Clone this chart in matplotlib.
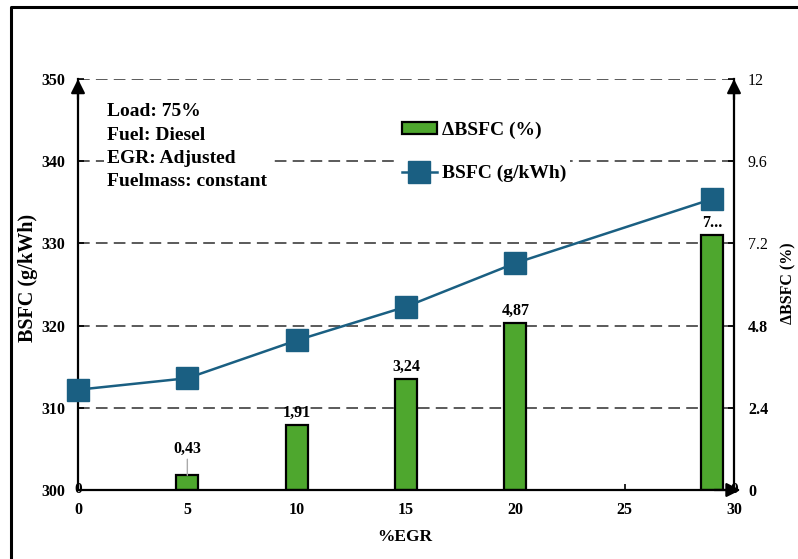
import matplotlib
matplotlib.use("Agg")
import matplotlib.pyplot as plt
from matplotlib.lines import Line2D
from matplotlib.patches import Patch

plt.rcParams['font.family'] = ['Liberation Serif', 'DejaVu Serif']
plt.rcParams['font.weight'] = 'bold'

# ---- data ----
egr_line = [0, 5, 10, 15, 20, 29]
bsfc = [312.2, 313.6, 318.2, 322.3, 327.6, 335.4]
egr_bar = [5, 10, 15, 20, 29]
dbsfc = [0.43, 1.91, 3.24, 4.87, 7.45]
bar_labels = ["0,43", "1,91", "3,24", "4,87", "7..."]
zero_label_x = [0, 30]
left_ticks = [300, 310, 320, 330, 340, 350]
right_ticks = [0, 2.4, 4.8, 7.2, 9.6, 12]
right_tick_labels = ["0", "2.4", "4.8", "7.2", "9.6", "12"]
x_ticks = [0, 5, 10, 15, 20, 25, 30]
info_text = "Load: 75%\nFuel: Diesel\nEGR: Adjusted\nFuelmass: constant"

W, H = 798, 559
fig = plt.figure(figsize=(W / 100, H / 100), dpi=100)
fig.patch.set_facecolor('white')

# axes placement in pixels
x0, x1, y0, y1 = 78, 734, 490, 79
ax2 = fig.add_axes([x0 / W, 1 - y0 / H, (x1 - x0) / W, (y0 - y1) / H])
ax = ax2.twinx()  # line axis, drawn on top
ax.yaxis.tick_left()
ax2.yaxis.tick_right()

green = '#4ea72e'
blue = '#1a5f82'
gridc = '#5a5a5a'

# bars (percent) on ax2
ax2.bar(egr_bar, dbsfc, width=1.0, color=green, edgecolor='black', linewidth=1.6, zorder=3)
ax2.set_ylim(0, 12)
ax2.set_xlim(0, 30)
ax2.set_yticks(right_ticks)
ax2.set_yticklabels(right_tick_labels)
for lab, t in zip(ax2.get_yticklabels(), right_tick_labels):
    lab.set_fontweight('normal' if t in ("12", "9.6", "7.2") else 'bold')
ax2.yaxis.grid(True, linestyle=(0, (6, 3.2)), color=gridc, linewidth=1.4, zorder=0)
ax2.set_axisbelow(True)
ax2.tick_params(axis='y', direction='in', length=4, width=1.2, pad=10, labelsize=11.5)
for s in ax2.spines.values():
    s.set_visible(False)

for xv, v, t in zip(egr_bar, dbsfc, bar_labels):
    if t == "0,43":
        ax2.annotate(t, xy=(xv, v), xytext=(xv, v + 0.55), ha='center', va='bottom',
                     fontsize=11.5, fontweight='bold',
                     arrowprops=dict(arrowstyle='-', color='#aaaaaa', lw=1, shrinkA=0, shrinkB=0),
                     zorder=5)
    else:
        ax2.text(xv, v + 0.12, t, ha='center', va='bottom', fontsize=11.5, fontweight='bold', zorder=5)
for xv in zero_label_x:
    ax2.text(xv, 0.02, "0", ha='center', va='center', fontsize=11, fontweight='bold', zorder=5, clip_on=False)

# line on ax
ax.set_zorder(ax2.get_zorder() + 1)
ax.patch.set_visible(False)
ax.plot(egr_line, bsfc, color=blue, linewidth=1.8, marker='s', markersize=16.5,
        markerfacecolor=blue, markeredgecolor=blue, zorder=4, clip_on=False)
ax.set_ylim(300, 350)
ax.set_xlim(0, 30)
ax.set_yticks(left_ticks)
ax.tick_params(axis='y', direction='in', length=4, width=1.2, pad=9, labelsize=11.5)
ax2.set_xticks(x_ticks)
ax.set_xticks(x_ticks)
ax.tick_params(axis='x', bottom=False, labelbottom=False)
ax2.tick_params(axis='x', direction='in', length=4, width=1.2, pad=9, labelsize=11.5,
                bottom=True, labelbottom=True)
ax.spines['top'].set_visible(False)
for k in ('left', 'bottom', 'right'):
    ax.spines[k].set_linewidth(1.6)
    ax.spines[k].set_color('black')

# arrows on axes ends
arrow_kw = dict(arrowstyle='-|>', color='black', lw=1.6, mutation_scale=21, shrinkA=0, shrinkB=0)
ax.annotate('', xy=(0, 1.0), xytext=(0, 0.95), xycoords='axes fraction', arrowprops=arrow_kw, annotation_clip=False)
ax.annotate('', xy=(1, 1.0), xytext=(1, 0.95), xycoords='axes fraction', arrowprops=arrow_kw, annotation_clip=False)
ax.annotate('', xy=(1.01, 0), xytext=(0.97, 0), xycoords='axes fraction', arrowprops=arrow_kw, annotation_clip=False)

# info text
ax.text(107 / W, 1 - 103 / H, info_text, transform=fig.transFigure, ha='left', va='top',
        fontsize=14, fontweight='bold', linespacing=1.5,
        bbox=dict(facecolor='white', edgecolor='none', pad=2), zorder=6)

# legend
handles = [Patch(facecolor=green, edgecolor='black', linewidth=1.6),
           Line2D([0], [0], color=blue, linewidth=1.8, marker='s', markersize=16.5,
                  markerfacecolor=blue, markeredgecolor=blue)]
leg = ax.legend(handles, ['\u0394BSFC (%)', 'BSFC (g/kWh)'], loc='center left',
                bbox_to_anchor=(398 / W, 1 - 152 / H), bbox_transform=fig.transFigure,
                prop=dict(size=14, weight='bold'), frameon=True, facecolor='white',
                edgecolor='none', framealpha=1, fancybox=False, borderpad=0.2,
                borderaxespad=0, handlelength=1.8, handletextpad=0.25, labelspacing=1.35,
                handleheight=0.55)
leg.set_zorder(7)

# axis labels
fig.text(28 / W, 1 - 278 / H, 'BSFC (g/kWh)', rotation=90, ha='center', va='center',
         fontsize=14.5, fontweight='bold')
fig.text(788 / W, 1 - 283 / H, '\u0394BSFC (%)', rotation=90, ha='center', va='center',
         fontsize=11.5, fontweight='bold')
fig.text(405 / W, 1 - 537 / H, '%EGR', ha='center', va='center', fontsize=12.5, fontweight='bold')

# figure border (top and left lines)
fig.add_artist(Line2D([11 / W, 11 / W, 1.0], [0.0, 1 - 7 / H, 1 - 7 / H],
                      transform=fig.transFigure, color='black', linewidth=2.2))

fig.savefig('out.png', dpi=100, facecolor='white')
